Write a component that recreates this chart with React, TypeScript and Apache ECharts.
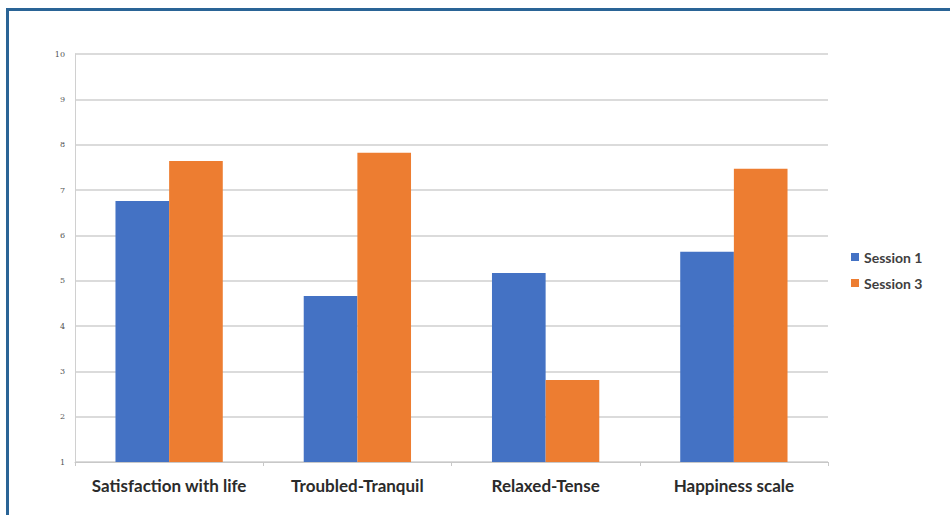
import React, { useEffect, useRef } from "react";
import * as echarts from "echarts";

const categories = ["Satisfaction with life", "Troubled-Tranquil", "Relaxed-Tense", "Happiness scale"];
const session1 = [6.76, 4.66, 5.17, 5.64];
const session3 = [7.64, 7.82, 2.81, 7.47];
const seriesNames = ["Session 1", "Session 3"];
const yTicks = [1, 2, 3, 4, 5, 6, 7, 8, 9, 10];

export default function App() {
  const ref = useRef<HTMLDivElement>(null);
  useEffect(() => {
    if (!ref.current) return;
    const chart = echarts.init(ref.current, null, { renderer: "svg" });
    chart.setOption({
      animation: false,
      backgroundColor: "#ffffff",
      graphic: [
        {
          type: "polyline",
          shape: { points: [[7.5, 515], [7.5, 9.5], [950, 9.5]] },
          style: { stroke: "#2a6496", lineWidth: 3, fill: null },
        },
      ],
      legend: {
        orient: "vertical",
        left: 846,
        top: 245,
        itemWidth: 8,
        itemHeight: 8,
        itemGap: 12,
        icon: "rect",
        textStyle: { fontFamily: "Lato", fontWeight: "bold", fontSize: 14, color: "#404040" },
        data: seriesNames,
      },
      grid: { left: 75, right: 122, top: 54, bottom: 53, containLabel: false },
      xAxis: {
        type: "category",
        data: categories,
        axisLine: { lineStyle: { color: "#c8c8c8" } },
        axisTick: { show: true, length: 4, lineStyle: { color: "#c8c8c8" } },
        axisLabel: {
          fontFamily: "Lato",
          fontWeight: "bold",
          fontSize: 17,
          color: "#2b2b2b",
          margin: 15,
          interval: 0,
        },
      },
      yAxis: {
        type: "value",
        min: 1,
        max: 10,
        interval: 1,
        axisLine: { show: true, lineStyle: { color: "#d0d0d0" } },
        axisTick: { show: false },
        splitLine: { lineStyle: { color: "#cfcfcf", width: 1.5 } },
        axisLabel: {
          fontFamily: "DejaVu Serif",
          fontSize: 8,
          color: "#555555",
          margin: 10,
          formatter: (v: number) => (yTicks.includes(v) ? String(v) : ""),
        },
      },
      series: [
        {
          name: seriesNames[0],
          type: "bar",
          data: session1,
          itemStyle: { color: "#4472c4" },
          barGap: "0%",
          barCategoryGap: "43%",
        },
        {
          name: seriesNames[1],
          type: "bar",
          data: session3,
          itemStyle: { color: "#ed7d31" },
          barGap: "0%",
          barCategoryGap: "43%",
        },
      ],
    });
    return () => chart.dispose();
  }, []);
  return (
    <div
      ref={ref}
      style={{ position: "fixed", left: 0, top: 0, width: 950, height: 515 }}
    />
  );
}
